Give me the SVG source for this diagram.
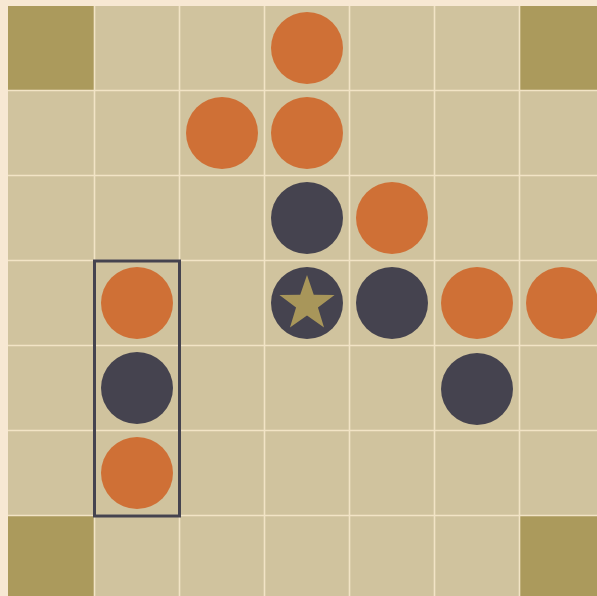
<svg xmlns="http://www.w3.org/2000/svg" width="597" height="596" viewBox="0 0 597 596">
<style>
.grid line{stroke:#f2e4c6;stroke-width:1.6}
.o{fill:#cf7036}
.d{fill:#45434f}
.corner{fill:#ab9a5c}
</style>
<rect x="0" y="0" width="597" height="596" fill="#f7e8d3"/>
<g id="board">
<rect x="8" y="6" width="600" height="600" fill="#d0c39e"/>
<rect class="corner" x="8" y="6" width="86" height="84"/>
<rect class="corner" x="519" y="6" width="90" height="84"/>
<rect class="corner" x="8" y="515" width="86" height="90"/>
<rect class="corner" x="519" y="515" width="90" height="90"/>
<g class="grid">
<line x1="94.5" y1="6" x2="94.5" y2="596"/>
<line x1="179.5" y1="6" x2="179.5" y2="596"/>
<line x1="264.5" y1="6" x2="264.5" y2="596"/>
<line x1="349.5" y1="6" x2="349.5" y2="596"/>
<line x1="434.5" y1="6" x2="434.5" y2="596"/>
<line x1="519.5" y1="6" x2="519.5" y2="596"/>
<line x1="8" y1="90.5" x2="597" y2="90.5"/>
<line x1="8" y1="175.5" x2="597" y2="175.5"/>
<line x1="8" y1="260.5" x2="597" y2="260.5"/>
<line x1="8" y1="345.5" x2="597" y2="345.5"/>
<line x1="8" y1="430.5" x2="597" y2="430.5"/>
<line x1="8" y1="515.5" x2="597" y2="515.5"/>
</g>
</g>
<g id="pieces">
<circle class="o" cx="307" cy="48" r="36"/>
<circle class="o" cx="222" cy="133" r="36"/>
<circle class="o" cx="307" cy="133" r="36"/>
<circle class="d" cx="307" cy="218" r="36"/>
<circle class="o" cx="392" cy="218" r="36"/>
<circle class="o" cx="137" cy="303" r="36"/>
<g id="king">
<circle class="d" cx="307" cy="303" r="36"/>
<polygon fill="#a8965a" points="307,275 313.76,294.7 334.58,295.04 317.94,307.55 324.05,327.46 307,315.5 289.95,327.46 296.06,307.55 279.42,295.04 300.24,294.7"/>
</g>
<circle class="d" cx="392" cy="303" r="36"/>
<circle class="o" cx="477" cy="303" r="36"/>
<circle class="o" cx="562" cy="303" r="36"/>
<circle class="d" cx="137" cy="388" r="36"/>
<circle class="d" cx="477" cy="389" r="36"/>
<circle class="o" cx="137" cy="473" r="36"/>
</g>
<g id="highlight">
<rect x="94.5" y="261" width="85" height="255" fill="none" stroke="#45434f" stroke-width="3"/>
</g>
</svg>
